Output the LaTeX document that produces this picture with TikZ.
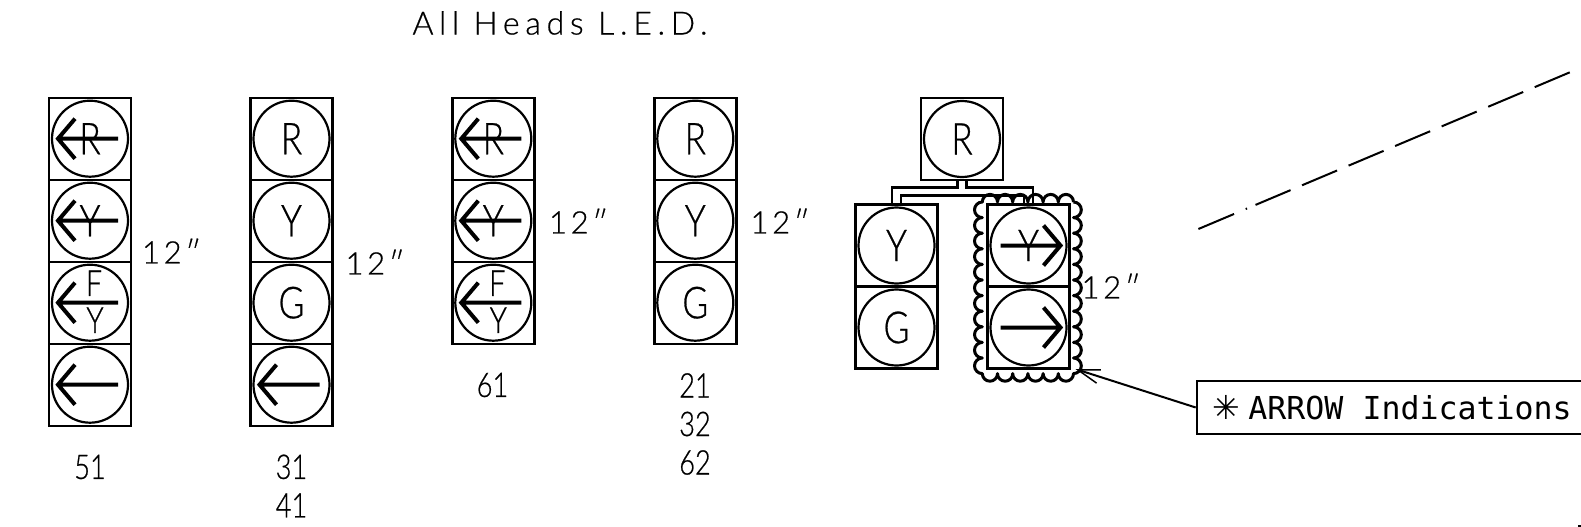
\documentclass[tikz,border=0pt]{standalone}
\usepackage{fontspec}
\usetikzlibrary{arrows.meta,positioning}
\setmainfont{Lato}[UprightFont=* Light,FakeStretch=0.8,FakeBold=0.6]
\newfontfamily\cadthin{Lato}[UprightFont=* Light,LetterSpace=12,FakeBold=0.6]
\newfontfamily\cadtitle{Lato}[UprightFont=* Light,LetterSpace=18,FakeBold=0.6]
\newfontfamily\cadmono{DejaVu Sans Mono}
\newfontfamily\cadsym{DejaVu Sans}
\tikzset{
    housing/.style={draw,line width=2.4pt,minimum size=82pt,inner sep=0pt,outer sep=0pt},
    lamp/.style={circle,draw,line width=2.2pt,minimum size=76pt,inner sep=0pt,font=\fontsize{44}{44}\selectfont},
    glyph/.style={line width=4pt},
    smallcap/.style={font=\fontsize{36}{36}\selectfont,inner sep=0pt},
    wire/.style={line width=2.2pt},
    plate/.style={font=\fontsize{34}{38.5}\selectfont,align=center,inner sep=0pt},
    size/.style={font=\cadthin\fontsize{31}{31}\selectfont,inner sep=0pt},
    tag/.style={draw,line width=2pt,font=\cadmono\fontsize{31.6}{31.6}\selectfont,anchor=west,minimum height=53pt,inner sep=0pt}
}
\newcommand{\larrow}[1]{\draw[glyph] ([xshift=28pt]#1.center) -- ([xshift=-32pt]#1.center)
    ([xshift=-15pt,yshift=20pt]#1.center) -- ([xshift=-32pt]#1.center) -- ([xshift=-15pt,yshift=-20pt]#1.center);}
\newcommand{\rarrow}[1]{\draw[glyph] ([xshift=-28pt]#1.center) -- ([xshift=32pt]#1.center)
    ([xshift=15pt,yshift=20pt]#1.center) -- ([xshift=32pt]#1.center) -- ([xshift=15pt,yshift=-20pt]#1.center);}
\begin{document}
\begin{tikzpicture}[x=1pt,y=-1pt,node distance=0pt]
    \useasboundingbox (0,0) rectangle (1581,527);
    \clip (0,0) rectangle (1581,527);
    \node (title) [font=\cadtitle\fontsize{32}{32}\selectfont,inner sep=0pt] at (560,23) {All Heads L.E.D.};
    % heads 51
    \node (A1) [housing] at (90,138.7) {};
    \node (A2) [housing,below=of A1] {};
    \node (A3) [housing,below=of A2] {};
    \node (A4) [housing,below=of A3] {};
    \node (LA1) [lamp] at (A1) {R};
    \node (LA2) [lamp] at (A2) {Y};
    \node (LA3) [lamp] at (A3) {};
    \node (LA4) [lamp] at (A4) {};
    \node (FA) [smallcap] at ([xshift=4pt,yshift=19.5pt]LA3.center) {F};
    \node (YA) [smallcap] at ([xshift=5pt,yshift=-17.5pt]LA3.center) {Y};
    \larrow{LA1} \larrow{LA2} \larrow{LA3} \larrow{LA4}
    \node (SA) [size] at (171.5,251) {12″};
    \node (PA) [plate] at (90,467) {51};
    % heads 31 41
    \node (B1) [housing] at (291.5,138.7) {};
    \node (B2) [housing,below=of B1] {};
    \node (B3) [housing,below=of B2] {};
    \node (B4) [housing,below=of B3] {};
    \node (LB1) [lamp] at (B1) {R};
    \node (LB2) [lamp] at (B2) {Y};
    \node (LB3) [lamp] at (B3) {G};
    \node (LB4) [lamp] at (B4) {};
    \larrow{LB4}
    \node (SB) [size] at (375,262) {12″};
    \node (PB) [plate] at (291.5,486) {31\\41};
    % heads 61
    \node (C1) [housing] at (493.3,138.7) {};
    \node (C2) [housing,below=of C1] {};
    \node (C3) [housing,below=of C2] {};
    \node (LC1) [lamp] at (C1) {R};
    \node (LC2) [lamp] at (C2) {Y};
    \node (LC3) [lamp] at (C3) {};
    \node (FC) [smallcap] at ([xshift=4pt,yshift=19.5pt]LC3.center) {F};
    \node (YC) [smallcap] at ([xshift=5pt,yshift=-17.5pt]LC3.center) {Y};
    \larrow{LC1} \larrow{LC2} \larrow{LC3}
    \node (SC) [size] at (578.5,221) {12″};
    \node (PC) [plate] at (492.5,385) {61};
    % heads 21 32 62
    \node (D1) [housing] at (695.3,138.7) {};
    \node (D2) [housing,below=of D1] {};
    \node (D3) [housing,below=of D2] {};
    \node (LD1) [lamp] at (D1) {R};
    \node (LD2) [lamp] at (D2) {Y};
    \node (LD3) [lamp] at (D3) {G};
    \node (SD) [size] at (780,221) {12″};
    \node (PD) [plate] at (695,424) {21\\32\\62};
    % heads 22 42 63
    \node (E0) [housing] at (962,139) {};
    \node (E1) [housing] at (896.5,245.5) {};
    \node (E2) [housing,below=of E1] {};
    \node (F1) [housing] at (1028.5,245.5) {};
    \node (F2) [housing,below=of F1] {};
    \node (LE0) [lamp] at (E0) {R};
    \node (LE1) [lamp] at (E1) {Y};
    \node (LE2) [lamp] at (E2) {G};
    \node (LF1) [lamp] at (F1) {Y};
    \node (LF2) [lamp] at (F2) {};
    \rarrow{LF1} \rarrow{LF2}
    \draw[wire] ([xshift=-4.5pt]E0.south) -- ++(0,7.5) -| ([xshift=-4.5pt]E1.north);
    \draw[wire] ([xshift=4.5pt]E0.south) -- ++(0,7.5) -| ([xshift=4.5pt]F1.north);
    \draw[wire] ([xshift=4.5pt]E1.north) |- ([yshift=9pt,xshift=-4.5pt]F1.north) -- ([xshift=-4.5pt]F1.north);
    % revision cloud
    \coordinate (cloudNE) at (1073.5,202);
    \coordinate (cloudSE) at (1075.4,369);
    \draw[line width=3pt,line join=round] (cloudNE)
        \foreach \i in {1,...,11} {arc[start angle=90,end angle=-90,radius=7.8pt]}
        \foreach \i in {1,...,6} {arc[start angle=0,end angle=-180,radius=7.6pt]}
        \foreach \i in {1,...,11} {arc[start angle=-90,end angle=-270,radius=7.8pt]}
        \foreach \i in {1,...,6} {arc[start angle=180,end angle=0,radius=7.6pt]};
    \node (SF) [size] at (1111,286) {12″};
    % note
    \node (note) [tag] at (1195.7,407.5) {\makebox[420pt][l]{\hspace*{16pt}{\cadsym\fontsize{33}{33}\selectfont ✳}\hspace*{8pt}ARROW Indications}};
    \draw[line width=2pt,-{Straight Barb[length=22pt,width=14pt,line width=1.5pt]}] (note.west) -- (cloudSE);
    % center line
    \coordinate (CL1) at (1198.4,229);
    \coordinate (CL2) at (1581,67.6);
    \draw[line width=2pt,dash pattern=on 38.7pt off 12.6pt on 1.5pt off 9.2pt on 38pt off 12.5pt on 38pt off 12.5pt on 38pt off 12.5pt on 38pt off 12.5pt on 38pt off 12.5pt on 38pt off 12.5pt on 38pt off 12.5pt on 2pt off 40pt] (CL1) -- (CL2);
    \coordinate (CL3) at (1578,526);
    \coordinate (CL4) at (1581,526);
    \draw[line width=2pt] (CL3) -- (CL4);
\end{tikzpicture}
\end{document}
